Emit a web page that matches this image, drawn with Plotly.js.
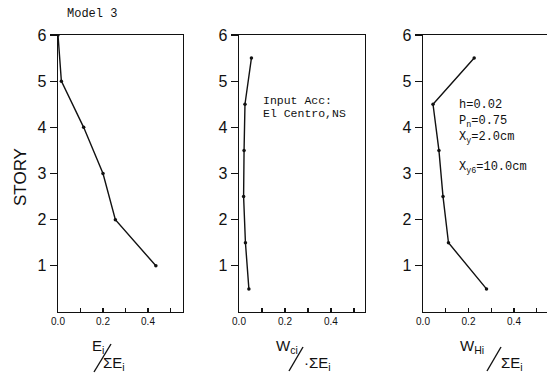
<!DOCTYPE html>
<html>
<head>
<meta charset="utf-8">
<script src="https://cdn.plot.ly/plotly-3.0.1.min.js"></script>
<style>html,body{margin:0;padding:0;background:#fff;}#chart{width:547px;height:373px;}</style>
</head>
<body>
<div id="chart"></div>
<script>
// Panel 1: energy distribution Ei / ΣEi per story
const storyE = [6, 5, 4, 3, 2, 1];
const eiRatio = [0.0, 0.015, 0.114, 0.2, 0.255, 0.435];
// Panel 2: Wci / ΣEi (mid-story points)
const storyW = [5.5, 4.5, 3.5, 2.5, 1.5, 0.5];
const wciRatio = [0.054, 0.026, 0.022, 0.02, 0.028, 0.043];
// Panel 3: WHi / ΣEi
const whiRatio = [0.225, 0.044, 0.07, 0.088, 0.112, 0.279];

const yTickVals = [1, 2, 3, 4, 5, 6];
const yTickText = ['1', '2', '3', '4', '5', '6'];
const xTickVals = [0, 0.1, 0.2, 0.3, 0.4, 0.5];
const xTickText = ['0.0', '', '0.2', '', '0.4', ''];

const W = 547, H = 373, T = 35, B = 312;
const px = v => v / W;
const py = v => (B - v) / (B - T);

const lineStyle = {color: '#111', width: 1.4};
const markerStyle = {color: '#111', size: 3.5};

const traces = [
  {x: eiRatio, y: storyE, xaxis: 'x', yaxis: 'y', mode: 'lines+markers', line: lineStyle, marker: markerStyle},
  {x: wciRatio, y: storyW, xaxis: 'x2', yaxis: 'y2', mode: 'lines+markers', line: lineStyle, marker: markerStyle},
  {x: whiRatio, y: storyW, xaxis: 'x3', yaxis: 'y3', mode: 'lines+markers', line: lineStyle, marker: markerStyle}
];

function xAx(domain, range, anchor) {
  return {
    domain: domain, range: range, anchor: anchor,
    showline: true, mirror: true, linecolor: '#111', linewidth: 1.4,
    showgrid: false, zeroline: false,
    tickvals: xTickVals, ticktext: xTickText,
    ticks: 'inside', ticklen: 4, tickcolor: '#111', tickwidth: 1.2,
    tickfont: {family: 'Liberation Sans', size: 10, color: '#111'}
  };
}
function yAx(anchor) {
  return {
    domain: [0, 1], range: [0, 6], anchor: anchor,
    showline: true, mirror: true, linecolor: '#111', linewidth: 1.4,
    showgrid: false, zeroline: false,
    tickvals: yTickVals, ticktext: yTickText,
    ticks: 'outside', ticklen: 7, tickcolor: '#111', tickwidth: 1.2,
    tickfont: {family: 'Liberation Sans', size: 16, color: '#111'}
  };
}

const monoFont = (s) => ({family: 'Liberation Mono', size: s, color: '#111'});
const sansFont = (s) => ({family: 'Liberation Sans', size: s, color: '#111'});

function ann(text, x, y, font, extra) {
  return Object.assign({text: text, x: px(x), y: py(y), xref: 'paper', yref: 'paper', showarrow: false, font: font, xanchor: 'center', yanchor: 'middle'}, extra || {});
}

const annotations = [
  ann('Model 3', 92, 14, monoFont(12)),
  ann('STORY', 20, 177, sansFont(17), {textangle: -90}),
  ann('Input Acc:', 261, 100, monoFont(11.5), {xanchor: 'left'}),
  ann('El Centro,NS', 261, 114, monoFont(11.5), {xanchor: 'left'}),
  ann('h=0.02', 457, 105, monoFont(12), {xanchor: 'left'}),
  ann('P<sub>n</sub>=0.75', 457, 122, monoFont(12), {xanchor: 'left'}),
  ann('X<sub>y</sub>=2.0cm', 457, 138, monoFont(12), {xanchor: 'left'}),
  ann('X<sub>y6</sub>=10.0cm', 457, 168, monoFont(12), {xanchor: 'left'}),
  ann('E<sub>i</sub>', 98, 346, sansFont(15)),
  ann('ΣE<sub>i</sub>', 114, 363, sansFont(15)),
  ann('W<sub>ci</sub>', 287, 346, sansFont(15)),
  ann('·ΣE<sub>i</sub>', 317, 363, sansFont(15)),
  ann('W<sub>Hi</sub>', 472, 346, sansFont(15)),
  ann('ΣE<sub>i</sub>', 512, 363, sansFont(15))
];

function slash(x0, y0, x1, y1) {
  return {type: 'line', xref: 'paper', yref: 'paper', x0: px(x0), y0: py(y0), x1: px(x1), y1: py(y1), line: {color: '#111', width: 1.4}};
}

const layout = {
  width: W, height: H,
  margin: {l: 0, r: 0, t: T, b: H - B, pad: 0},
  paper_bgcolor: '#fff', plot_bgcolor: '#fff',
  showlegend: false,
  xaxis: xAx([px(58), px(183)], [0, 0.5556], 'y'),
  yaxis: yAx('x'),
  xaxis2: xAx([px(239), px(365)], [0, 0.548], 'y2'),
  yaxis2: yAx('x2'),
  xaxis3: xAx([px(423), 1], [0, 0.545], 'y3'),
  yaxis3: yAx('x3'),
  annotations: annotations,
  shapes: [
    slash(94, 372, 111, 344),
    slash(289, 371, 303, 347),
    slash(487, 371, 501, 347)
  ]
};

Plotly.newPlot('chart', traces, layout, {displayModeBar: false, staticPlot: true});
</script>
</body>
</html>
